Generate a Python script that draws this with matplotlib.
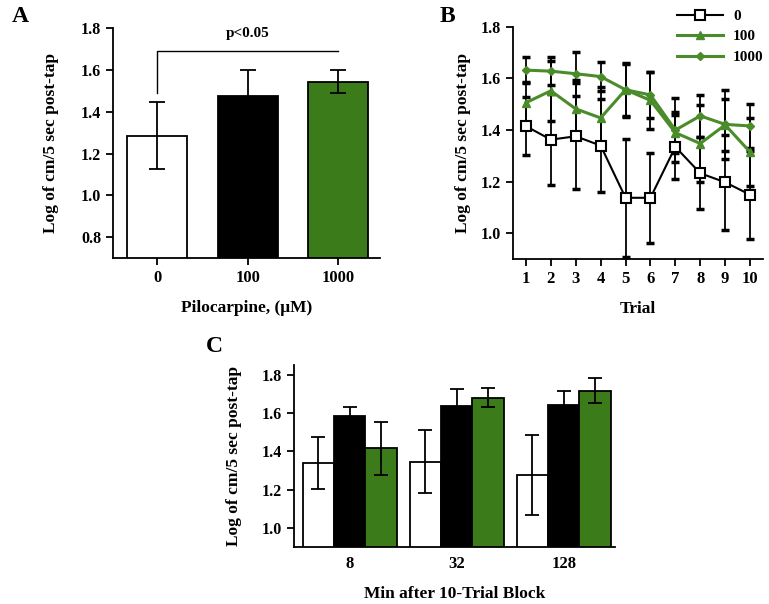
import matplotlib
matplotlib.use("Agg")
import matplotlib.pyplot as plt
import numpy as np

plt.rcParams['font.family'] = ['Liberation Serif', 'DejaVu Serif']
plt.rcParams['font.weight'] = 'bold'
plt.rcParams['axes.labelweight'] = 'bold'

GREEN = '#3c7b19'
LGREEN = '#4a8b2a'

# Panel A
a_labels = ['0', '100', '1000']
a_means = [1.285, 1.474, 1.543]
a_err = [0.16, 0.125, 0.055]

# Panel B
trials = [1, 2, 3, 4, 5, 6, 7, 8, 9, 10]
b0 = [1.415, 1.363, 1.376, 1.340, 1.138, 1.138, 1.335, 1.233, 1.198, 1.150]
b0_err = [0.112, 0.175, 0.205, 0.18, 0.228, 0.175, 0.125, 0.14, 0.183, 0.17]
b100 = [1.506, 1.552, 1.482, 1.447, 1.556, 1.515, 1.390, 1.348, 1.420, 1.315]
b100_err = [0.08, 0.115, 0.11, 0.12, 0.10, 0.11, 0.08, 0.15, 0.10, 0.13]
b1000 = [1.632, 1.628, 1.618, 1.607, 1.556, 1.536, 1.400, 1.455, 1.422, 1.416]
b1000_err = [0.05, 0.055, 0.085, 0.055, 0.105, 0.09, 0.125, 0.08, 0.135, 0.085]

# Panel C
c_groups = ['8', '32', '128']
c0 = [1.338, 1.346, 1.277]
c0_err = [0.135, 0.165, 0.21]
c100 = [1.583, 1.635, 1.639]
c100_err = [0.05, 0.09, 0.075]
c1000 = [1.415, 1.680, 1.717]
c1000_err = [0.14, 0.05, 0.065]

W, H = 769, 604
fig = plt.figure(figsize=(W / 100, H / 100), dpi=100)

YT = 11.5
XT = 12
LAB = 12.5

def ax_px(l, r, t, b):
    return fig.add_axes([l / W, 1 - b / H, (r - l) / W, (b - t) / H])

def style(ax):
    for s in ['top', 'right']:
        ax.spines[s].set_visible(False)
    for s in ['left', 'bottom']:
        ax.spines[s].set_linewidth(1.3)
    ax.tick_params(axis='both', width=1.3, length=5)
    ax.tick_params(axis='y', labelsize=YT)
    ax.tick_params(axis='x', labelsize=XT)
    for lab in ax.get_xticklabels() + ax.get_yticklabels():
        lab.set_fontweight('bold')

# ---- A ----
axA = ax_px(113, 380, 28.3, 258)
x = np.arange(len(a_labels))
axA.bar(x, a_means, width=0.66, color=['white', 'black', GREEN],
        edgecolor='black', linewidth=1.3, zorder=2)
axA.errorbar(x, a_means, yerr=a_err, fmt='none', ecolor='black',
             elinewidth=1.3, capsize=6, capthick=1.3, zorder=3)
axA.set_xlim(-0.49, 2.46)
axA.set_ylim(0.7, 1.8)
axA.set_yticks([0.8, 1.0, 1.2, 1.4, 1.6, 1.8])
axA.set_xticks(x)
axA.set_xticklabels(a_labels)
axA.set_ylabel('Log of cm/5 sec post-tap', fontsize=LAB, labelpad=16)
axA.set_xlabel('Pilocarpine, (μM)', fontsize=LAB, labelpad=10)
axA.plot([0, 0, 2], [1.49, 1.69, 1.69], color='black', lw=1.0, clip_on=False)
axA.text(1.0, 1.775, 'p<0.05', ha='center', va='center', fontsize=11, fontweight='bold')
style(axA)
fig.text(12 / W, 1 - 16 / H, 'A', fontsize=17, fontweight='bold', va='center')

# ---- B ----
axB = ax_px(513, 763, 26.7, 259.3)
axB.errorbar(trials, b0, yerr=b0_err, fmt='none', ecolor='black',
             elinewidth=1.3, capsize=3, capthick=2.5, zorder=2)
axB.errorbar(trials, b100, yerr=b100_err, fmt='none', ecolor='black',
             elinewidth=1.3, capsize=3, capthick=2.5, zorder=2)
axB.errorbar(trials, b1000, yerr=b1000_err, fmt='none', ecolor='black',
             elinewidth=1.3, capsize=3, capthick=2.5, zorder=2)
l0, = axB.plot(trials, b0, color='black', lw=1.5, marker='s', ms=7,
               mfc='white', mec='black', mew=1.5, zorder=4, label='0', clip_on=False)
l1, = axB.plot(trials, b100, color=LGREEN, lw=2.2, marker='^', ms=6,
               mfc=LGREEN, mec=LGREEN, zorder=3, label='100', clip_on=False)
l2, = axB.plot(trials, b1000, color=LGREEN, lw=2.2, marker='D', ms=4.5,
               mfc=LGREEN, mec=LGREEN, zorder=3, label='1000', clip_on=False)
axB.set_xlim(0.48, 10.52)
axB.set_ylim(0.9, 1.8)
axB.set_yticks([1.0, 1.2, 1.4, 1.6, 1.8])
axB.set_xticks(trials)
axB.set_ylabel('Log of cm/5 sec post-tap', fontsize=LAB, labelpad=7)
axB.set_xlabel('Trial', fontsize=LAB, labelpad=10)
style(axB)
fig.legend(handles=[l0, l1, l2], loc='upper left',
           bbox_to_anchor=(668 / W, 1 - 0 / H), frameon=False,
           prop={'weight': 'bold', 'size': 11}, handlelength=3.0,
           handletextpad=0.65, labelspacing=0.45, borderaxespad=0.2)
fig.text(440 / W, 1 - 16 / H, 'B', fontsize=17, fontweight='bold', va='center')

# ---- C ----
axC = ax_px(294, 615, 365, 547.3)
g = np.arange(len(c_groups))
bw = 0.293
axC.bar(g - bw, c0, width=bw, color='white', edgecolor='black', linewidth=1.3, zorder=2)
axC.bar(g, c100, width=bw, color='black', edgecolor='black', linewidth=1.3, zorder=2)
axC.bar(g + bw, c1000, width=bw, color=GREEN, edgecolor='black', linewidth=1.3, zorder=2)
for off, m, e in [(-bw, c0, c0_err), (0, c100, c100_err), (bw, c1000, c1000_err)]:
    axC.errorbar(g + off, m, yerr=e, fmt='none', ecolor='black',
                 elinewidth=1.3, capsize=5, capthick=1.3, zorder=3)
axC.set_xlim(-0.52, 2.48)
axC.set_ylim(0.9, 1.85)
axC.set_yticks([1.0, 1.2, 1.4, 1.6, 1.8])
axC.set_xticks(g)
axC.set_xticklabels(c_groups)
axC.set_ylabel('Log of cm/5 sec post-tap', fontsize=LAB, labelpad=14)
axC.set_xlabel('Min after 10-Trial Block', fontsize=LAB, labelpad=10)
style(axC)
axC.tick_params(axis='x', length=0, pad=6)
fig.text(206 / W, 1 - 347 / H, 'C', fontsize=17, fontweight='bold', va='center')

fig.savefig('out.png', dpi=100)
